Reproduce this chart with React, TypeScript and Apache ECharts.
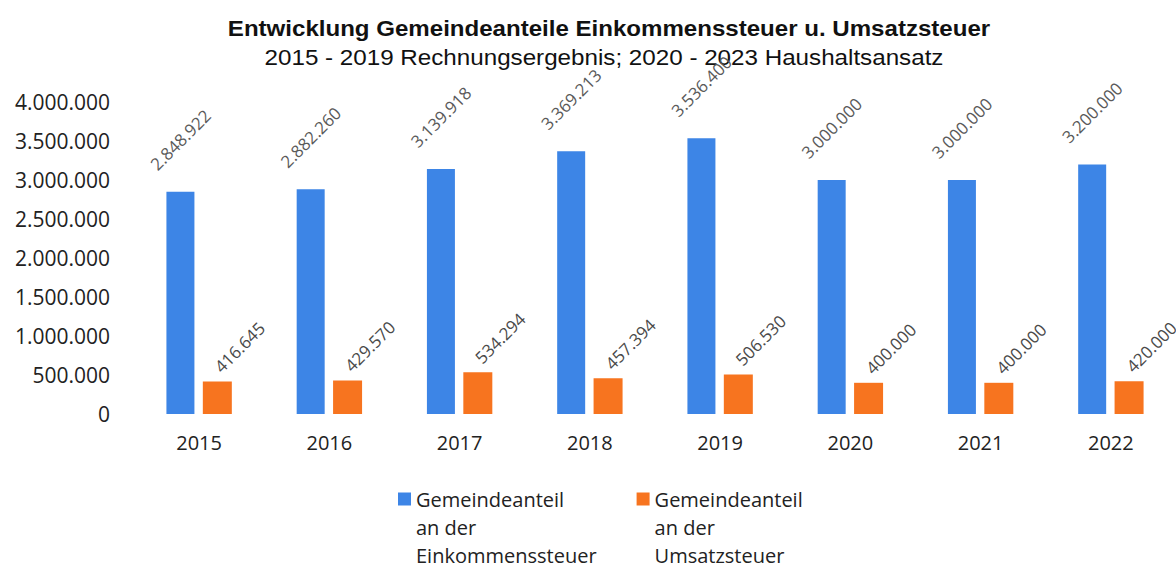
import React, { useEffect, useRef } from "react";
import * as echarts from "echarts";

const categories = ["2015", "2016", "2017", "2018", "2019", "2020", "2021", "2022"];
const einkommensteuer = [2848922, 2882260, 3139918, 3369213, 3536400, 3000000, 3000000, 3200000];
const umsatzsteuer = [416645, 429570, 534294, 457394, 506530, 400000, 400000, 420000];
const seriesNames = [
  "Gemeindeanteil\nan der\nEinkommenssteuer",
  "Gemeindeanteil\nan der\nUmsatzsteuer",
];
const yTicks = { min: 0, max: 4000000, interval: 500000 };
const titleText = "Entwicklung Gemeindeanteile Einkommenssteuer u. Umsatzsteuer";
const subtitleText = "2015 - 2019 Rechnungsergebnis; 2020 - 2023 Haushaltsansatz";

const fmt = (v: number) => String(Math.round(v)).replace(/\B(?=(\d{3})+(?!\d))/g, ".");

const FONT = "'Open Sans', 'Noto Sans', sans-serif";
const TFONT = "'Liberation Sans', Arial, sans-serif";

export default function App() {
  const ref = useRef<HTMLDivElement>(null);
  useEffect(() => {
    document.body.style.margin = "0";
    if (!ref.current) return;
    const chart = echarts.init(ref.current, undefined, { renderer: "svg" });
    chart.setOption({
      animation: false,
      backgroundColor: "#ffffff",
      graphic: [
        {
          type: "text",
          x: 609,
          y: 28,
          scaleX: 1.095,
          style: {
            text: titleText,
            fontFamily: TFONT,
            fontWeight: "bold",
            fontSize: 22,
            fill: "#111",
            align: "center",
            verticalAlign: "middle",
          },
        },
        {
          type: "text",
          x: 604,
          y: 57,
          scaleX: 1.1,
          style: {
            text: subtitleText,
            fontFamily: TFONT,
            fontSize: 22,
            fill: "#111",
            align: "center",
            verticalAlign: "middle",
          },
        },
      ],
      legend: {
        left: 393,
        top: 424,
        itemWidth: 13,
        itemHeight: 13,
        itemGap: 40,
        icon: "rect",
        data: seriesNames,
        formatter: (name: string) => "\n\n" + name,
        textStyle: {
          fontFamily: FONT,
          fontSize: 20,
          lineHeight: 28,
          color: "#222",
        },
      },
      grid: { left: 134, right: 0, top: 102, height: 312 },
      xAxis: {
        type: "category",
        data: categories,
        axisLine: { show: false },
        axisTick: { show: false },
        axisLabel: { fontFamily: FONT, fontSize: 20, color: "#222", margin: 18 },
      },
      yAxis: {
        type: "value",
        min: yTicks.min,
        max: yTicks.max,
        interval: yTicks.interval,
        splitLine: { show: false },
        axisLine: { show: false },
        axisTick: { show: false },
        axisLabel: {
          fontFamily: FONT,
          fontSize: 21,
          color: "#222",
          margin: 24,
          formatter: (v: number) => fmt(v),
        },
      },
      series: [
        {
          name: seriesNames[0],
          type: "bar",
          data: einkommensteuer,
          barWidth: 28,
          barGap: "30%",
          itemStyle: { color: "#3d85e6" },
          label: {
            show: true,
            position: "top",
            rotate: 45,
            align: "center",
            verticalAlign: "middle",
            distance: 52,
            fontFamily: FONT,
            fontSize: 17,
            color: "#5a5a5a",
            formatter: (p: any) => fmt(p.value),
          },
        },
        {
          name: seriesNames[1],
          type: "bar",
          data: umsatzsteuer,
          barWidth: 29,
          itemStyle: { color: "#f7741f" },
          label: {
            show: true,
            position: "top",
            rotate: 45,
            align: "left",
            verticalAlign: "middle",
            distance: 12,
            fontFamily: FONT,
            fontSize: 17,
            color: "#4a4a4a",
            formatter: (p: any) => fmt(p.value),
          },
        },
      ],
    });
    return () => chart.dispose();
  }, []);
  return <div ref={ref} style={{ width: 1176, height: 566 }} />;
}
